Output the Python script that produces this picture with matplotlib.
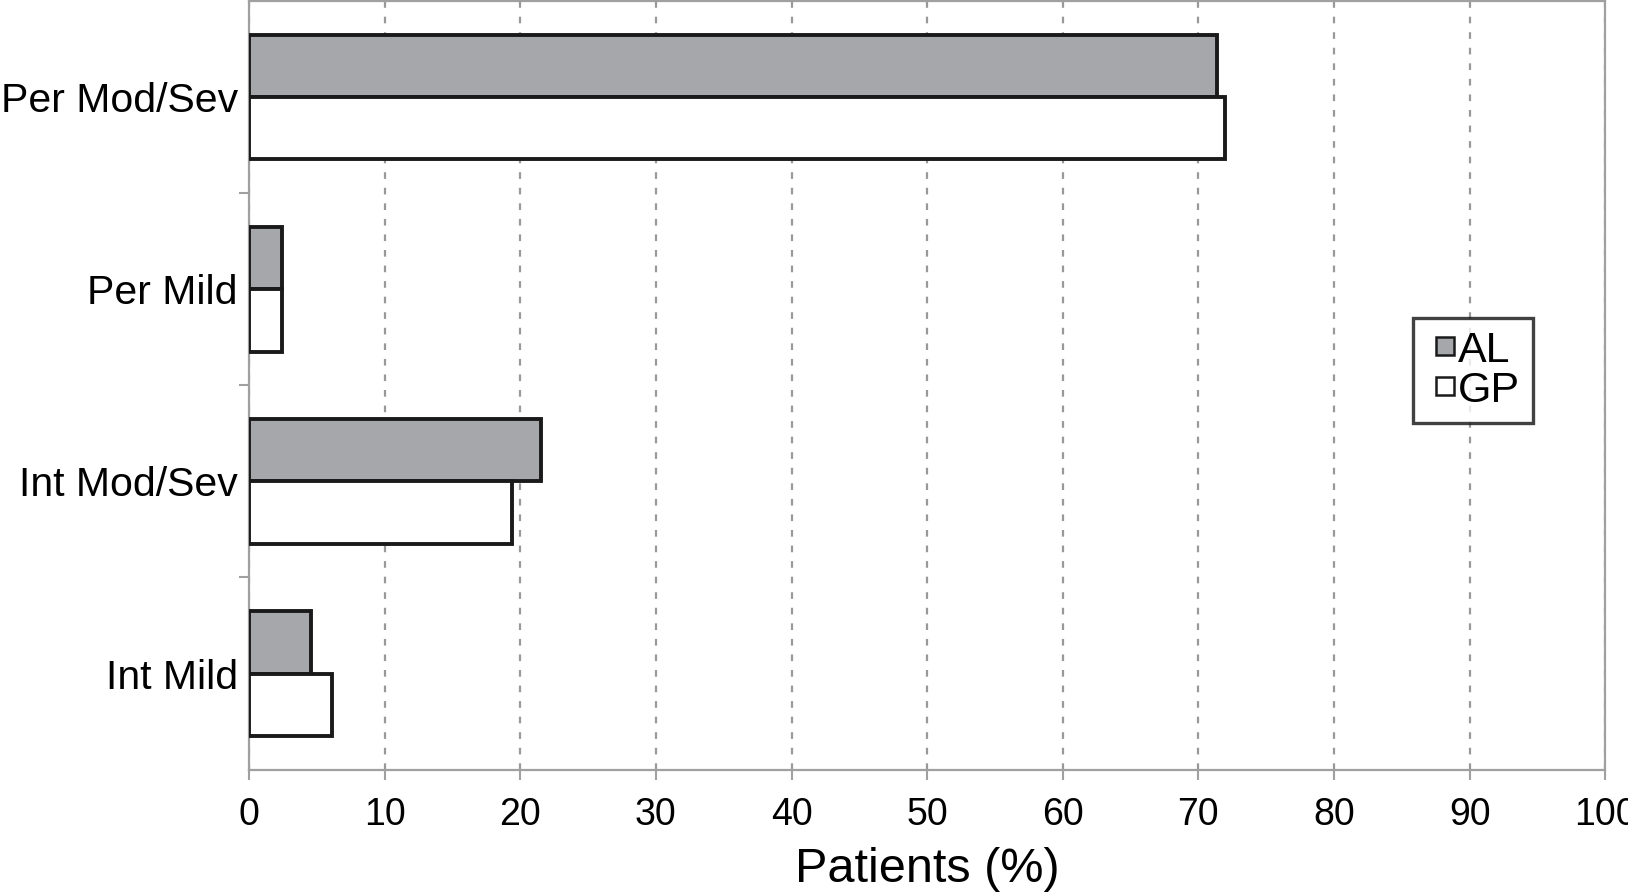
import numpy as np
import matplotlib.pyplot as plt
from matplotlib.lines import Line2D

plt.rcParams['font.family'] = ['Liberation Sans', 'DejaVu Sans']

# Данные
categories = ["Int Mild", "Int Mod/Sev", "Per Mild", "Per Mod/Sev"]
al_values = [4.6, 21.5, 2.45, 71.4]
gp_values = [6.1, 19.4, 2.45, 72.0]
series_names = ["AL", "GP"]
x_ticks = [0, 10, 20, 30, 40, 50, 60, 70, 80, 90, 100]

grey = "#a6a7ab"
axis_grey = "#a0a0a0"

fig = plt.figure(figsize=(16.28, 8.96), dpi=100)
ax = fig.add_axes([0.153, 0.141, 0.833, 0.858])

y = np.arange(len(categories))
h = 0.325
ax.barh(y + h / 2, al_values, height=h, color=grey, edgecolor="#1a1a1a", linewidth=2.8, zorder=3)
ax.barh(y - h / 2, gp_values, height=h, color="white", edgecolor="#1a1a1a", linewidth=2.8, zorder=3)

ax.set_xlim(0, 100)
ax.set_ylim(-0.5, len(categories) - 0.5)
ax.set_xticks(x_ticks)
ax.set_xticklabels([str(v) for v in x_ticks], fontsize=27)
ax.set_yticks(y)
ax.set_yticklabels(categories, fontsize=29.5)
ax.set_yticks(np.arange(0.5, len(categories) - 0.5, 1), minor=True)

ax.tick_params(axis="y", which="major", length=0, pad=8)
ax.tick_params(axis="y", which="minor", length=7, width=1.5, color=axis_grey, direction="out")
ax.tick_params(axis="x", length=7, width=1.5, color=axis_grey, pad=13)

ax.xaxis.grid(True, linestyle=(0, (3, 4)), color="#999999", linewidth=1.6, zorder=0)
ax.set_axisbelow(True)
for s in ax.spines.values():
    s.set_color(axis_grey)
    s.set_linewidth(1.6)

ax.set_xlabel("Patients (%)", fontsize=35, labelpad=10)

handles = [Line2D([], [], marker="s", markersize=13, linestyle="none",
                  markerfacecolor=grey, markeredgecolor="#1a1a1a", markeredgewidth=1.8),
           Line2D([], [], marker="s", markersize=13, linestyle="none",
                  markerfacecolor="white", markeredgecolor="#1a1a1a", markeredgewidth=1.8)]
leg = ax.legend(handles, series_names, loc="upper left", bbox_to_anchor=(0.858, 0.588),
                fontsize=31, frameon=True, fancybox=False, handlelength=0.9,
                handletextpad=-0.15, borderpad=0.3, labelspacing=0.0, borderaxespad=0)
leg.get_frame().set_edgecolor("#111111")
leg.get_frame().set_linewidth(2.4)

fig.savefig("out.png", dpi=100)
